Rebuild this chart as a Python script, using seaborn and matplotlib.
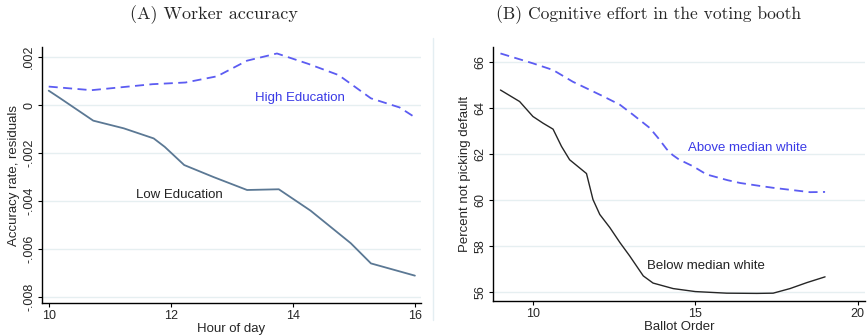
import matplotlib
matplotlib.use("Agg")
import matplotlib.pyplot as plt
import seaborn as sns
import pandas as pd
from matplotlib.lines import Line2D

# ---- Data: panel A ----
hour_high = [10.0, 10.7, 11.7, 12.24, 12.76, 13.25, 13.74, 14.25, 14.75, 15.28, 15.75, 16.0]
acc_high = [0.00077, 0.00062, 0.00087, 0.00094, 0.00120, 0.00185, 0.00215, 0.00172, 0.00125, 0.00028, -0.00010, -0.00051]
hour_low = [10.0, 10.19, 10.73, 11.23, 11.72, 11.9, 12.22, 12.7, 13.25, 13.77, 14.29, 14.95, 15.28, 16.0]
acc_low = [0.00060, 0.00028, -0.00065, -0.00097, -0.00139, -0.00174, -0.00250, -0.00300, -0.00354, -0.00351, -0.00440, -0.00576, -0.00660, -0.00711]
yticks_a = [-0.008, -0.006, -0.004, -0.002, 0.0, 0.002]
yticklabels_a = ["-.008", "-.006", "-.004", "-.002", "0", ".002"]
xticks_a = [10, 12, 14, 16]

# ---- Data: panel B ----
ballot_above = [9.0, 10.0, 10.62, 11.23, 12.16, 12.68, 13.09, 13.6, 13.86, 14.12, 14.3, 14.5, 14.94, 15.35, 16.0, 16.38, 17.0, 17.4, 18.0, 18.54, 19.0]
pct_above = [66.36, 65.93, 65.64, 65.13, 64.50, 64.13, 63.69, 63.12, 62.68, 62.20, 61.95, 61.75, 61.45, 61.10, 60.85, 60.73, 60.60, 60.52, 60.42, 60.33, 60.34]
ballot_below = [9.0, 9.59, 10.0, 10.31, 10.62, 10.88, 11.13, 11.65, 11.85, 12.06, 12.37, 12.68, 12.98, 13.4, 13.7, 14.32, 15.0, 15.97, 16.9, 17.4, 17.92, 18.44, 19.0]
pct_below = [64.77, 64.27, 63.62, 63.33, 63.07, 62.32, 61.74, 61.14, 60.01, 59.36, 58.79, 58.14, 57.56, 56.69, 56.38, 56.14, 56.01, 55.94, 55.93, 55.94, 56.14, 56.40, 56.65]
yticks_b = [56, 58, 60, 62, 64, 66]
xticks_b = [10, 15, 20]

sns.set_style("white")
plt.rcParams["font.family"] = ["Liberation Sans", "DejaVu Sans"]

W, H = 867, 335
fig = plt.figure(figsize=(W / 100, H / 100), dpi=100)

def px_axes(x0, x1, ytop, ybot):
    return fig.add_axes([x0 / W, (H - ybot) / H, (x1 - x0) / W, (ybot - ytop) / H])

ax1 = px_axes(42, 421, 47, 303)
ax2 = px_axes(493, 865, 47, 301)

grid_c = "#e6eff1"
blue = "#5c5cf2"
blue_txt = "#3a3ae6"
steel = "#5b7894"

def style(ax):
    sns.despine(ax=ax)
    for s in ["left", "bottom"]:
        ax.spines[s].set_color("black")
        ax.spines[s].set_linewidth(1.0)
    ax.tick_params(axis="both", direction="out", length=3, width=0.8, color="black",
                   labelsize=9, pad=2, left=True, bottom=True)
    ax.grid(False)
    for lab in ax.get_yticklabels():
        lab.set_rotation(90)
        lab.set_va("center")

# Panel A
dfa_h = pd.DataFrame({"hour": hour_high, "acc": acc_high})
dfa_l = pd.DataFrame({"hour": hour_low, "acc": acc_low})
for y in yticks_a:
    ax1.axhline(y, color=grid_c, lw=1.0, zorder=0)
sns.lineplot(data=dfa_l, x="hour", y="acc", ax=ax1, color=steel, lw=1.3, sort=False)
sns.lineplot(data=dfa_h, x="hour", y="acc", ax=ax1, color=blue, lw=1.3, sort=False,
             linestyle=(0, (5, 3)))
ax1.set_xlim(9.89, 16.1)
ax1.set_ylim(-0.00825, 0.00242)
ax1.set_xticks(xticks_a)
ax1.set_xticklabels([str(t) for t in xticks_a])
ax1.set_yticks(yticks_a)
ax1.set_yticklabels(yticklabels_a)
ax1.set_xlabel("Hour of day", fontsize=9.5, labelpad=1)
ax1.set_ylabel("Accuracy rate, residuals", fontsize=9.5, labelpad=2)
ax1.text(13.38, 0.00028, "High Education", color=blue_txt, fontsize=9.5, va="center", ha="left")
ax1.text(11.43, -0.00375, "Low Education", color="#222222", fontsize=9.5, va="center", ha="left")
style(ax1)

# Panel B
dfb_a = pd.DataFrame({"ballot": ballot_above, "pct": pct_above})
dfb_b = pd.DataFrame({"ballot": ballot_below, "pct": pct_below})
for y in yticks_b:
    ax2.axhline(y, color=grid_c, lw=1.0, zorder=0)
sns.lineplot(data=dfb_b, x="ballot", y="pct", ax=ax2, color="#262626", lw=1.0, sort=False)
sns.lineplot(data=dfb_a, x="ballot", y="pct", ax=ax2, color=blue, lw=1.3, sort=False,
             linestyle=(0, (5, 3)))
ax2.set_xlim(8.77, 20.23)
ax2.set_ylim(55.6, 66.64)
ax2.set_xticks(xticks_b)
ax2.set_xticklabels([str(t) for t in xticks_b])
ax2.set_yticks(yticks_b)
ax2.set_yticklabels([str(t) for t in yticks_b])
ax2.set_xlabel("Ballot Order", fontsize=9.5, labelpad=1)
ax2.set_ylabel("Percent not picking default", fontsize=9.5, labelpad=2)
ax2.text(14.77, 62.26, "Above median white", color=blue_txt, fontsize=9.5, va="center", ha="left")
ax2.text(13.5, 57.1, "Below median white", color="#222222", fontsize=9.5, va="center", ha="left")
style(ax2)

# separator line between panels
fig.add_artist(Line2D([433 / W, 433 / W], [1 - 38 / H, 1 - 320 / H], color="#e4eef2", lw=1.0))

# Titles (LaTeX-like serif)
fig.text(214 / W, 1 - 15 / H, "(A) Worker accuracy", fontsize=13, family="cmr10", ha="center", va="center")
fig.text(648 / W, 1 - 15 / H, "(B) Cognitive effort in the voting booth", fontsize=12.6, family="cmr10",
         ha="center", va="center")

fig.savefig("out.png", dpi=100)
